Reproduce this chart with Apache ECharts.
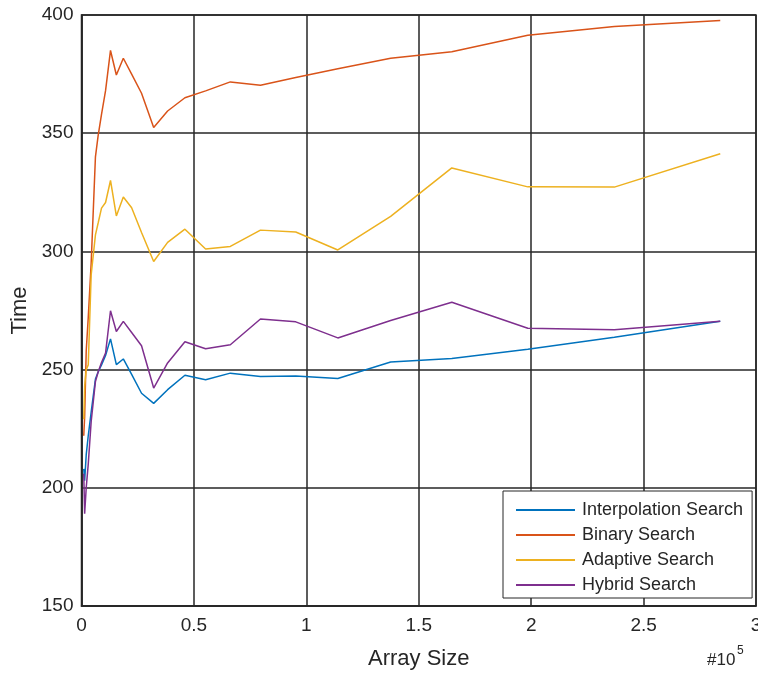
<!DOCTYPE html>
<html>
<head>
<meta charset="utf-8">
<script src="https://cdn.jsdelivr.net/npm/echarts@6/dist/echarts.min.js"></script>
<style>
html,body{margin:0;padding:0;background:#fff;}
#chart{width:758px;height:673px;}
</style>
</head>
<body>
<div id="chart"></div>
<script>
// Array sizes in units of 1e5
const arraySizes = [0.010, 0.014, 0.021, 0.030, 0.043, 0.062, 0.074, 0.089, 0.107, 0.129, 0.155, 0.186, 0.223, 0.267, 0.321, 0.383, 0.460, 0.552, 0.662, 0.796, 0.953, 1.140, 1.375, 1.647, 1.985, 2.370, 2.841];

const interpolationTimes = [208, 203, 214, 222, 232, 246, 249, 252, 256, 263, 252.1, 254.5, 248, 240, 235.7, 241.5, 247.6, 245.7, 248.5, 247.1, 247.3, 246.2, 253.2, 254.7, 258.6, 263.7, 270.5];
const binaryTimes = [222, 230, 258, 272, 295, 340, 349, 358, 368, 385, 374.6, 381.7, 375, 366.9, 352.4, 359.4, 365, 367.9, 371.7, 370.3, 373.6, 377.3, 381.7, 384.5, 391.4, 395.1, 397.7];
const adaptiveTimes = [229, 243, 250, 252, 290, 307, 312, 318.3, 320.7, 330, 315, 323, 318.5, 308, 295.7, 303.8, 309.4, 301, 302.1, 309, 308.2, 300.6, 314.8, 335.3, 327.3, 327.2, 341.3];
const hybridTimes = [206, 189, 200, 210, 228, 245, 249, 253, 257, 274.9, 266.1, 270.4, 265.7, 260.1, 242.2, 252.8, 261.8, 258.8, 260.5, 271.4, 270.2, 263.4, 270.8, 278.5, 267.5, 266.9, 270.5];

const seriesNames = ['Interpolation Search', 'Binary Search', 'Adaptive Search', 'Hybrid Search'];
const seriesValues = [interpolationTimes, binaryTimes, adaptiveTimes, hybridTimes];
const seriesColors = ['#0072BD', '#D95319', '#EDB120', '#7E2F8E'];

const xTickValues = [0, 0.5, 1, 1.5, 2, 2.5, 3];
const yTickValues = [150, 200, 250, 300, 350, 400];

const FONT = '"Liberation Sans", Arial, sans-serif';
const INK = '#262626';

const chart = echarts.init(document.getElementById('chart'), null, {renderer: 'canvas'});

const series = seriesNames.map((name, i) => ({
  name: name,
  type: 'line',
  data: arraySizes.map((x, j) => [x, seriesValues[i][j]]),
  showSymbol: false,
  symbol: 'none',
  lineStyle: {color: seriesColors[i], width: 1.5},
  itemStyle: {color: seriesColors[i]},
  emphasis: {disabled: true},
  animation: false,
  z: 3
}));

chart.setOption({
  animation: false,
  backgroundColor: '#ffffff',
  grid: {
    left: 81.5, right: 2, top: 15, bottom: 67,
    containLabel: false,
    outerBoundsMode: 'none',
    show: true, borderColor: INK, borderWidth: 1.5, backgroundColor: 'transparent'
  },
  xAxis: {
    type: 'value',
    min: xTickValues[0], max: xTickValues[xTickValues.length - 1], interval: 0.5,
    name: 'Array Size',
    nameLocation: 'middle',
    nameGap: 42,
    nameTextStyle: {fontFamily: FONT, fontSize: 22, color: INK},
    axisLine: {show: true, lineStyle: {color: INK, width: 1.5}},
    axisTick: {show: false},
    axisLabel: {
      fontFamily: FONT, fontSize: 19, color: INK, margin: 10,
      formatter: v => String(Math.round(v * 10) / 10)
    },
    splitLine: {show: true, lineStyle: {color: INK, width: 1.5}}
  },
  yAxis: {
    type: 'value',
    min: yTickValues[0], max: yTickValues[yTickValues.length - 1], interval: 50,
    name: 'Time',
    nameLocation: 'middle',
    nameGap: 50,
    nameTextStyle: {fontFamily: FONT, fontSize: 22, color: INK},
    axisLine: {show: true, lineStyle: {color: INK, width: 1.5}},
    axisTick: {show: false},
    axisLabel: {fontFamily: FONT, fontSize: 19, color: INK, margin: 8},
    splitLine: {show: true, lineStyle: {color: INK, width: 1.5}}
  },
  legend: {
    data: seriesNames,
    orient: 'vertical',
    left: 503, top: 491,
    padding: [9, 9, 3, 13],
    itemGap: 5,
    itemWidth: 59,
    itemHeight: 2,
    icon: 'rect',
    backgroundColor: '#ffffff',
    borderColor: INK,
    borderWidth: 1,
    borderRadius: 0,
    textStyle: {fontFamily: FONT, fontSize: 18, color: INK, lineHeight: 20, padding: [0, 0, 0, 2]},
    selectedMode: false
  },
  graphic: [
    {
      type: 'text', left: 707, top: 652,
      style: {text: '#10', fontFamily: FONT, fontSize: 17, fill: INK}
    },
    {
      type: 'text', left: 737, top: 645,
      style: {text: '5', fontFamily: FONT, fontSize: 12, fill: INK}
    }
  ],
  series: series
});
</script>
</body>
</html>
